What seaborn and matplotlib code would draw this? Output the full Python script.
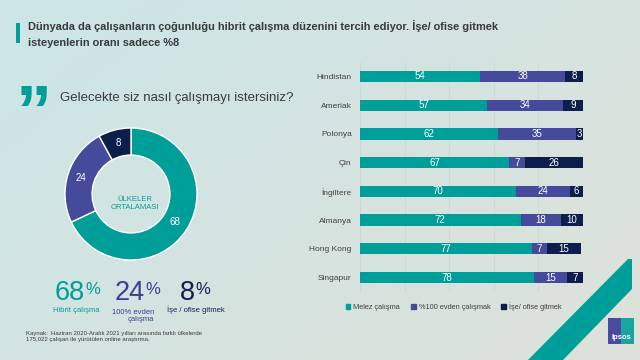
import numpy as np
import pandas as pd
import matplotlib
matplotlib.use("Agg")
import matplotlib.pyplot as plt
from matplotlib.patches import Patch, Polygon, Rectangle
import seaborn as sns

# ---------------- data ----------------
countries = ["Hindistan", "Ameriak", "Polonya", "Çin", "İngiltere", "Almanya", "Hong Kong", "Singapur"]
hybrid = [54, 57, 62, 67, 70, 72, 77, 78]
home = [38, 34, 35, 7, 24, 18, 7, 15]
office = [8, 9, 3, 26, 6, 10, 15, 7]
series_names = ["Melez çalışma", "%100 evden çalışmak", "İşe/ ofise gitmek"]

donut_values = [68, 24, 8]
donut_big = ["68", "24", "8"]
donut_captions = ["Hibrit çalışma", "100% evden\nçalışma", "İşe / ofise gitmek"]

title = ("Dünyada da çalışanların çoğunluğu hibrit çalışma düzenini tercih ediyor. İşe/ ofise gitmek\n"
         "isteyenlerin oranı sadece %8")
question = "Gelecekte siz nasıl çalışmayı istersiniz?"
center_label = "ÜLKELER\nORTALAMASI"
source = ("Kaynak:  Haziran 2020-Aralık 2021 yılları arasında farklı ülkelerde\n"
          "175,022 çalışan ile yürütülen online araştırma.")

TEAL = "#009e98"
PURPLE = "#454b9a"
NAVY = "#0e1e4c"
TXT = "#3a3a3a"

sns.set_theme(style="white")
plt.rcParams["font.family"] = ["Liberation Sans", "DejaVu Sans"]

W, H = 640, 360
fig = plt.figure(figsize=(6.4, 3.6), dpi=100)

def fx(px):
    return px / W

def fy(py):
    return 1 - py / H

# ---------------- background ----------------
bg = fig.add_axes([0, 0, 1, 1], zorder=-10)
yy, xx = np.mgrid[0:1:90j, 0:1:160j]
t = (xx * 0.6 + yy * 0.4)
c0 = np.array([0.80, 0.90, 0.905])
c1 = np.array([0.87, 0.885, 0.855])
img = c0[None, None, :] * (1 - t[..., None]) + c1[None, None, :] * t[..., None]
bg.imshow(img, extent=[0, W, H, 0], aspect="auto", interpolation="bilinear")
bg.set_xlim(0, W)
bg.set_ylim(H, 0)
bg.axis("off")

# title accent
bg.add_patch(Rectangle((16, 23), 3.5, 20, color=TEAL, lw=0))
bg.text(28, 30, title.split("\n")[0], fontsize=7.9, fontweight="bold", color=TXT, va="baseline")
bg.text(28, 46.5, title.split("\n")[1], fontsize=7.9, fontweight="bold", color=TXT, va="baseline")

# quote mark + question
bg.text(16, 136, "\u201D", fontsize=52, fontweight="bold", color=TEAL, va="baseline")
bg.text(60, 101, question, fontsize=9.5, color=TXT, va="baseline")

# diagonal stripe + logo
bg.add_patch(Polygon([(528, 360), (628, 259), (632, 259), (632, 289), (563, 360)],
                     closed=True, color=TEAL, lw=0))
bg.add_patch(Rectangle((608, 318), 13, 26, color="#4a4aa0", lw=0))
bg.add_patch(Rectangle((621, 318), 13, 26, color="#1aa6a0", lw=0))
bg.text(621, 339, "Ipsos", fontsize=5.5, fontweight="bold", color="white", ha="center", va="baseline")

# big numbers
big_cols = [TEAL, "#3d3f97", "#13204e"]
big_x = [55, 115, 180]
fig.canvas.draw()
inv = bg.transData.inverted()
for s, c, x in zip(donut_big, big_cols, big_x):
    tt = bg.text(x, 300, s, fontsize=19.5, color=c, va="baseline")
    fig.canvas.draw()
    bb = tt.get_window_extent()
    x_end = inv.transform((bb.x1, bb.y0))[0]
    bg.text(x_end, 294, "%", fontsize=12, color=c, va="baseline")
bg.text(76, 312.5, donut_captions[0], fontsize=5.5, color=TEAL, ha="center", va="baseline")
bg.text(154, 321, donut_captions[1], fontsize=5.5, color="#3d3f97", ha="right", va="baseline",
        linespacing=1.05, multialignment="right")
bg.text(196, 312.5, donut_captions[2], fontsize=5.5, color="#13204e", ha="center", va="baseline")

bg.text(26, 341, source, fontsize=4.3, color=TXT, va="baseline", linespacing=1.3)

# ---------------- donut ----------------
cx, cy, R = 131, 194, 66
half = 70
dax = fig.add_axes([fx(cx - half), fy(cy + half), fx(2 * half), 2 * half / H])
wedges, _, autotexts = dax.pie(donut_values, colors=[TEAL, PURPLE, NAVY], startangle=90, counterclock=False,
                               radius=1, wedgeprops=dict(width=0.41, edgecolor="white", linewidth=1),
                               autopct=lambda p: f"{p:.0f}", pctdistance=0.795,
                               textprops=dict(color="white", fontsize=7))
dax.set_xlim(-half / R, half / R)
dax.set_ylim(-half / R, half / R)
dax.set_aspect("equal")
dax.text(0.06, -0.15, center_label, ha="center", va="center", fontsize=5.5, color=TEAL, linespacing=1.2)

# ---------------- stacked bars ----------------
df = pd.DataFrame({"country": countries, "hybrid": hybrid, "home": home, "office": office})
df["c2"] = df["hybrid"] + df["home"]
df["c3"] = df["c2"] + df["office"]

top_px, bot_px = 62.1, 291.9
ax = fig.add_axes([fx(360), fy(bot_px), fx(223), (bot_px - top_px) / H])
ax.patch.set_alpha(0)
for col, color in [("c3", NAVY), ("c2", PURPLE), ("hybrid", TEAL)]:
    sns.barplot(data=df, y="country", x=col, orient="h", color=color, saturation=1,
                width=0.39, ax=ax, order=countries, linewidth=0)

for i, row in df.iterrows():
    starts = [0, row["hybrid"], row["c2"]]
    vals = [row["hybrid"], row["home"], row["office"]]
    for s, v in zip(starts, vals):
        ax.text(s + v / 2, i, f"{v}", ha="center", va="center", color="white", fontsize=7)

ax.set_xlim(0, 100)
ax.set_ylim(len(countries) - 0.5, -0.5)
ax.set_xticks([0, 20, 40, 60, 80, 100])
ax.set_xticklabels([])
ax.grid(axis="x", color="#cbd8d4", lw=0.6)
ax.grid(axis="y", visible=False)
ax.set_axisbelow(True)
ax.set_xlabel("")
ax.set_ylabel("")
ax.tick_params(axis="both", length=0)
ax.tick_params(axis="y", labelsize=6, labelcolor="#404040", pad=6)
for sp in ax.spines.values():
    sp.set_visible(False)

handles = [Patch(color=c) for c in [TEAL, PURPLE, NAVY]]
leg = ax.legend(handles, series_names, loc="upper left", bbox_to_anchor=(fx(346), fy(302)),
                bbox_transform=fig.transFigure, ncol=3, frameon=False, fontsize=5.3,
                handlelength=0.6, handleheight=0.6, handletextpad=0.4, columnspacing=1.5,
                borderpad=0, borderaxespad=0, labelcolor="#404040")

fig.savefig("out.png", dpi=100)
